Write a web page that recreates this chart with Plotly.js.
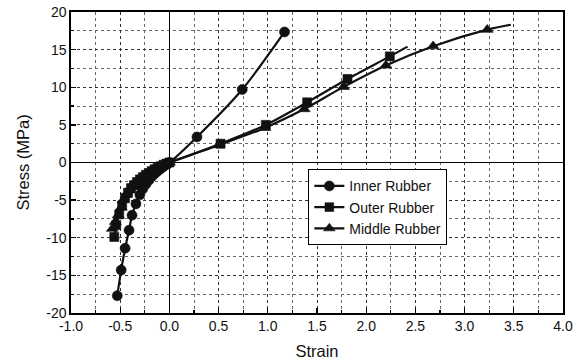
<!DOCTYPE html>
<html>
<head>
<meta charset="utf-8">
<script src="https://cdn.plot.ly/plotly-3.0.1.min.js"></script>
<style>
  html, body { margin: 0; padding: 0; background: #fff; }
  #chart { width: 577px; height: 362px; }
</style>
</head>
<body>
<div id="chart"></div>
<script>
// Stress-strain curves of the three rubber layers (compression < 0 < tension)
const innerStrain = [-0.53, -0.49, -0.45, -0.41, -0.38, -0.34, -0.30, -0.27, -0.24, -0.21, -0.18, -0.15, -0.12, -0.09, -0.06, -0.03, 0, 0.28, 0.74, 1.17];
const innerStress = [-17.7, -14.3, -11.4, -9.0, -7.0, -5.5, -4.3, -3.5, -2.9, -2.4, -1.9, -1.5, -1.15, -0.85, -0.55, -0.25, 0, 3.4, 9.7, 17.35];

const outerStrain = [-0.56, -0.54, -0.51, -0.48, -0.45, -0.42, -0.39, -0.36, -0.33, -0.30, -0.27, -0.24, -0.21, -0.18, -0.15, -0.12, -0.09, -0.06, -0.03, 0, 0.52, 0.98, 1.40, 1.81, 2.24, 2.42];
const outerStress = [-9.9, -8.3, -6.9, -5.7, -4.7, -4.0, -3.4, -3.0, -2.6, -2.25, -1.95, -1.65, -1.4, -1.15, -0.9, -0.7, -0.5, -0.3, -0.15, 0, 2.5, 5.0, 8.0, 11.1, 14.1, 15.4];

const middleStrain = [-0.58, -0.55, -0.52, -0.49, -0.47, -0.44, -0.41, -0.38, -0.35, -0.32, -0.29, -0.26, -0.23, -0.20, -0.17, -0.14, -0.11, -0.08, -0.05, -0.02, 0, 0.50, 0.97, 1.37, 1.77, 2.20, 2.68, 3.23, 3.47];
const middleStress = [-8.8, -7.9, -7.0, -6.0, -5.0, -4.3, -3.7, -3.2, -2.8, -2.4, -2.1, -1.8, -1.55, -1.3, -1.05, -0.85, -0.65, -0.45, -0.3, -0.12, 0, 2.3, 4.6, 7.1, 10.05, 12.9, 15.45, 17.65, 18.3];

const seriesNames = ['Inner Rubber', 'Outer Rubber', 'Middle Rubber'];

// axis tick values and their printed labels (plain hyphen minus)
const strainTicks = [-1.0, -0.5, 0.0, 0.5, 1.0, 1.5, 2.0, 2.5, 3.0, 3.5, 4.0];
const strainLabels = ['-1.0', '-0.5', '0.0', '0.5', '1.0', '1.5', '2.0', '2.5', '3.0', '3.5', '4.0'];
const stressTicks = [-20, -15, -10, -5, 0, 5, 10, 15, 20];
const stressLabels = ['-20', '-15', '-10', '-5', '0', '5', '10', '15', '20'];

const FONT = 'Liberation Sans, Arial, Helvetica, sans-serif';
const INK = '#111';

// every measured point carries a marker except the unmarked end of a curve
function sizes(n, size, markLast) {
  return Array.from({length: n}, (_, i) => (i === n - 1 && !markLast) ? 0 : size);
}

function curve(name, x, y, symbol, size, markLast) {
  return {
    type: 'scatter',
    mode: 'lines+markers',
    name: name,
    x: x,
    y: y,
    line: {color: INK, width: 2.2, shape: 'spline', smoothing: 0.8},
    marker: {symbol: symbol, color: INK, opacity: 1, size: sizes(x.length, size, markLast),
             line: {color: INK, width: 0.6}},
    cliponaxis: true
  };
}

const data = [
  curve(seriesNames[0], innerStrain, innerStress, 'circle', 10, true),
  curve(seriesNames[1], outerStrain, outerStress, 'square', 9, false),
  curve(seriesNames[2], middleStrain, middleStress, 'triangle-up', 10.5, false)
];

const axisCommon = {
  showline: true,
  mirror: true,
  linecolor: '#000',
  linewidth: 1.6,
  tickmode: 'array',
  ticks: 'inside',
  ticklen: 5,
  tickwidth: 1.3,
  tickcolor: '#000',
  showgrid: true,
  gridcolor: '#333',
  gridwidth: 1,
  griddash: 'dot',
  zeroline: true,
  zerolinecolor: '#000',
  zerolinewidth: 1.6,
  tickfont: {family: FONT, size: 14, color: INK},
  automargin: false
};

const layout = {
  width: 577,
  height: 362,
  margin: {l: 71, r: 14, t: 12, b: 49},
  paper_bgcolor: '#fff',
  plot_bgcolor: '#fff',
  font: {family: FONT, color: INK},
  showlegend: true,
  legend: {
    x: 0.482, y: 0.478, xanchor: 'left', yanchor: 'top',
    bgcolor: '#fff', bordercolor: '#000', borderwidth: 1.2,
    font: {family: FONT, size: 14, color: INK},
    tracegroupgap: 0,
    entrywidth: 152
  },
  xaxis: Object.assign({}, axisCommon, {
    range: [-1, 4],
    tickvals: strainTicks,
    ticktext: strainLabels,
    minor: {dtick: 0.25, tick0: 0, ticks: 'inside', ticklen: 3, tickcolor: '#000', showgrid: true, gridcolor: '#666', griddash: 'dot'},
    title: {text: 'Strain', font: {family: FONT, size: 16.5, color: INK}, standoff: 12}
  }),
  yaxis: Object.assign({}, axisCommon, {
    range: [-20, 20],
    tickvals: stressTicks,
    ticktext: stressLabels,
    minor: {dtick: 2.5, tick0: 0, ticks: 'inside', ticklen: 3, tickcolor: '#000', showgrid: true, gridcolor: '#666', griddash: 'dot'},
    title: {text: 'Stress (MPa)', font: {family: FONT, size: 16.5, color: INK}, standoff: 12}
  })
};

Plotly.newPlot('chart', data, layout, {displayModeBar: false, staticPlot: true});
</script>
</body>
</html>
